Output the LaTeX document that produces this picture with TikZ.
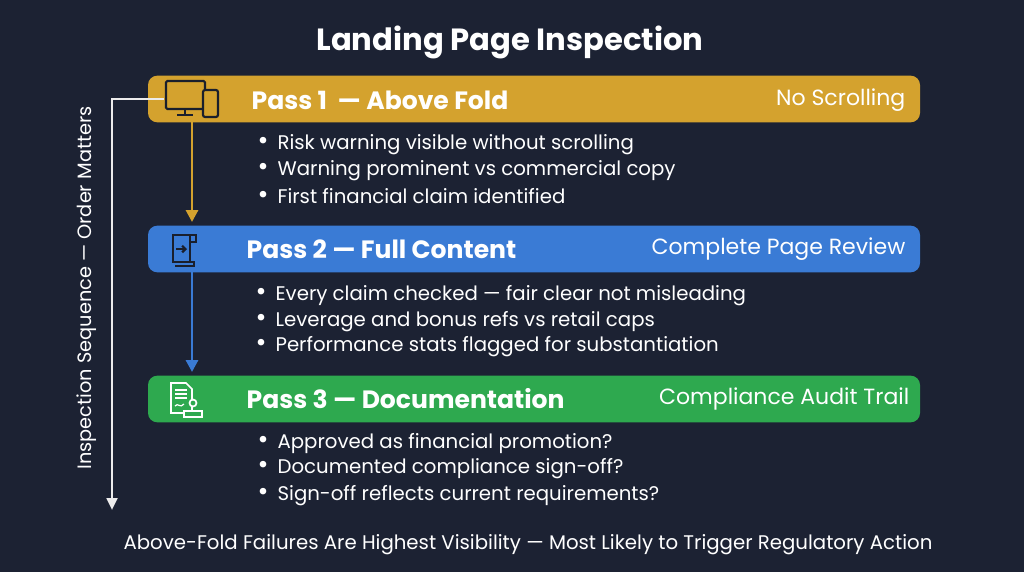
\documentclass[tikz,border=0pt]{standalone}
\usepackage{fontspec}
\setmainfont{Poppins}
\usetikzlibrary{arrows.meta}
\definecolor{bg}{HTML}{1C2233}
\definecolor{yel}{HTML}{D4A22E}
\definecolor{blu}{HTML}{3A7BD5}
\definecolor{grn}{HTML}{2EA94F}
\definecolor{ink}{HTML}{1A1F2C}
\begin{document}
\begin{tikzpicture}[x=0.75pt,y=-0.75pt,
  band/.style={rounded corners=7pt,minimum width=579pt,minimum height=35pt,inner sep=0pt},
  pass/.style={anchor=west,text=white,font=\bfseries\fontsize{18.8}{20}\selectfont},
  side/.style={anchor=east,text=white,font=\fontsize{16.5}{18}\selectfont},
  item/.style={anchor=west,text=white,font=\fontsize{14.8}{16}\selectfont},
  icon/.style={draw=ink,line width=1.6pt},
  iconw/.style={draw=white,line width=1.3pt}]
\fill[bg] (0,0) rectangle (1024,572);
\node[text=white,font=\bfseries\fontsize{23}{26}\selectfont] (title) at (510,42) {Landing Page Inspection};
\node[band,fill=yel] (b1) at (534,99) {};
\node[band,fill=blu] (b2) at (534,249) {};
\node[band,fill=grn] (b3) at (534,399) {};
\node[pass] (p1) at (247,100) {Pass 1\ \ — Above Fold};
\node[pass] (p2) at (242,249) {Pass 2 — Full Content};
\node[pass] (p3) at (242,399) {Pass 3 — Documentation};
\node[side] (s1) at (910,100) {No Scrolling};
\node[side] (s2) at (910,249) {Complete Page Review};
\node[side] (s3) at (914,399) {Compliance Audit Trail};
\foreach \n/\x/\y/\t in {a1/253/145/Risk warning visible without scrolling,
  a2/253/171/Warning prominent vs commercial copy,
  a3/253/196/First financial claim identified,
  c1/251/296/Every claim checked — fair clear not misleading,
  c2/251/322/Leverage and bonus refs vs retail caps,
  c3/251/347/Performance stats flagged for substantiation,
  d1/253/444/Approved as financial promotion?,
  d2/253/469/Documented compliance sign-off?,
  d3/253/496/Sign-off reflects current requirements?}
  \node[item] (\n) at (\x,\y) {{\fontsize{20}{16}\selectfont•}\hspace{0.45em}\t};
% icons
\draw[icon,rounded corners=1pt] (166,81) rectangle (205,109);
\draw[icon] (185,109) -- (185,114); \draw[icon] (177,115) -- (193,115);
\draw[icon,fill=yel,rounded corners=1.5pt] (203,90) rectangle (218,117);
\draw[icon] (173,235) -- (190,235) -- (190,262) -- (173,262) -- cycle;
\draw[icon] (175,262) -- (194,262) -- (194,266) -- (175,266);
\draw[icon] (190,235) -- (196,235) -- (196,242) -- (190,242);
\draw[icon,-{Straight Barb[length=2.5pt]}] (176,249) -- (187,249);
\draw[iconw] (171,383) -- (186,383) -- (192,389) -- (192,413) -- (171,413) -- cycle;
\foreach \yy in {390,394,398} \draw[iconw,line width=0.9pt] (175,\yy) -- (187,\yy);
\draw[iconw,line width=0.9pt] (175,406) .. controls (178,402) and (180,409) .. (184,404);
\draw[iconw,fill=grn] (193,403) circle (3.5);
\draw[iconw,fill=grn] (184,411) rectangle (202,417);
% arrows
\coordinate (y1) at (192,122); \coordinate (y2) at (192,222);
\draw[yel,line width=2.2pt,-{Triangle[length=9pt,width=9pt]}] (y1) -- (y2);
\coordinate (z1) at (192,272); \coordinate (z2) at (192,372);
\draw[blu,line width=2.2pt,-{Triangle[length=9pt,width=9pt]}] (z1) -- (z2);
\coordinate (g0) at (164,99); \coordinate (g1) at (112,510);
\draw[white!85!gray,line width=2pt,-{Triangle[length=9pt,width=8pt]}] (g0) -| (g1);
\node[text=white,rotate=90,font=\fontsize{14.5}{16}\selectfont] (vt) at (87,288) {Inspection Sequence — Order Matters};
\node[text=white,font=\fontsize{14.8}{16}\selectfont] (foot) at (528,545) {Above-Fold Failures Are Highest Visibility — Most Likely to Trigger Regulatory Action};
\end{tikzpicture}
\end{document}
